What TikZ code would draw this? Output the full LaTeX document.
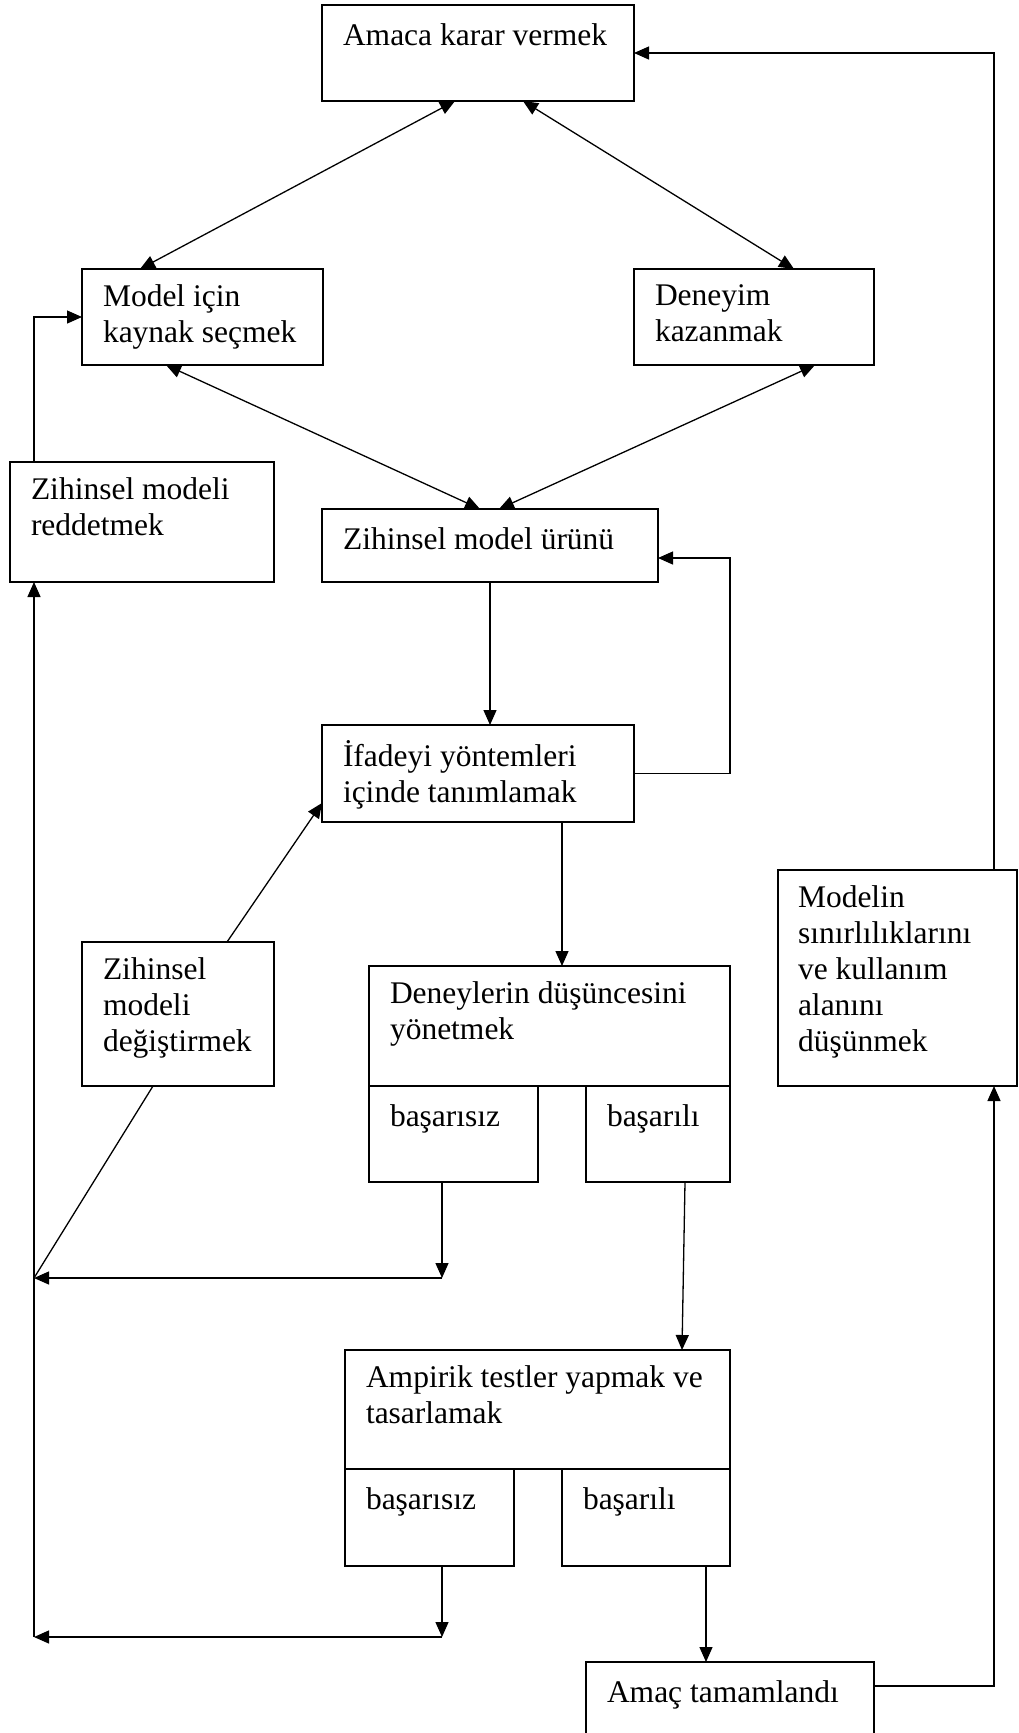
\documentclass[tikz,border=0pt]{standalone}
\usepackage{fontspec}
\setmainfont{Liberation Serif}
\usetikzlibrary{arrows.meta,calc}
\tikzset{
  box/.style={draw, line width=1.8pt, inner sep=0pt, outer sep=0pt},
  txt/.style={anchor=north west, inner sep=0pt, outer sep=0pt, align=left,
    font=\fontsize{31.5}{36}\selectfont, execute at begin node=\strut},
  conn/.style={line width=1.3pt, -{Triangle[length=15pt,width=13pt]}},
  bi/.style={line width=1.3pt, {Triangle[length=15pt,width=13pt]}-{Triangle[length=15pt,width=13pt]}},
  plain/.style={line width=1.3pt},
}
\begin{document}
\begin{tikzpicture}[x=1pt,y=-1pt]
\clip (0,0) rectangle (1018,1733);
\useasboundingbox (0,0) rectangle (1018,1733);
% boxes
\node[box, minimum width=312pt, minimum height=96pt] (goal) at (478,53) {};
\node[box, minimum width=241pt, minimum height=96pt] (src) at (202.5,317) {};
\node[box, minimum width=240pt, minimum height=96pt] (exp) at (754,317) {};
\node[box, minimum width=264pt, minimum height=120pt] (rej) at (142,522) {};
\node[box, minimum width=336pt, minimum height=73pt] (prod) at (490,545.5) {};
\node[box, minimum width=312pt, minimum height=97pt] (expr) at (478,773.5) {};
\node[box, minimum width=192pt, minimum height=144pt] (chg) at (178,1014) {};
\node[box, minimum width=361pt, minimum height=120pt] (exps) at (549.5,1026) {};
\node[box, minimum width=169pt, minimum height=96pt] (f1) at (453.5,1134) {};
\node[box, minimum width=144pt, minimum height=96pt] (s1) at (658,1134) {};
\node[box, minimum width=385pt, minimum height=119pt] (emp) at (537.5,1409.5) {};
\node[box, minimum width=169pt, minimum height=97pt] (f2) at (429.5,1517.5) {};
\node[box, minimum width=168pt, minimum height=97pt] (s2) at (646,1517.5) {};
\node[box, minimum width=239pt, minimum height=216pt] (lim) at (897.5,978) {};
\node[box, minimum width=288pt, minimum height=83pt] (done) at (730,1703.5) {};
% texts
\node[txt] (goalT) at ($(goal.north west)+(21,15.5)$) {Amaca karar vermek};
\node[txt] (srcT) at ($(src.north west)+(21,15.5)$) {Model için\\kaynak seçmek};
\node[txt] (expT) at ($(exp.north west)+(21,15.5)$) {Deneyim\\kazanmak};
\node[txt] (rejT) at ($(rej.north west)+(21,15.5)$) {Zihinsel modeli\\reddetmek};
\node[txt] (prodT) at ($(prod.north west)+(21,15.5)$) {Zihinsel model ürünü};
\node[txt] (exprT) at ($(expr.north west)+(21,15.5)$) {İfadeyi yöntemleri\\içinde tanımlamak};
\node[txt] (chgT) at ($(chg.north west)+(21,15.5)$) {Zihinsel\\modeli\\değiştirmek};
\node[txt] (expsT) at ($(exps.north west)+(21,15.5)$) {Deneylerin düşüncesini\\yönetmek};
\node[txt] (f1T) at ($(f1.north west)+(21,15.5)$) {başarısız};
\node[txt] (s1T) at ($(s1.north west)+(21,15.5)$) {başarılı};
\node[txt] (empT) at ($(emp.north west)+(21,15.5)$) {Ampirik testler yapmak ve\\tasarlamak};
\node[txt] (f2T) at ($(f2.north west)+(21,15.5)$) {başarısız};
\node[txt] (s2T) at ($(s2.north west)+(21,15.5)$) {başarılı};
\node[txt] (limT) at ($(lim.north west)+(20,15.5)$) {Modelin\\sınırlılıklarını\\ve kullanım\\alanını\\düşünmek};
\node[txt] (doneT) at ($(done.north west)+(21,15.5)$) {Amaç tamamlandı};
% junction coordinates
\coordinate (L1) at (34,1278);
\coordinate (J1) at ($(f1.south west)+(73,96)$);
\coordinate (L2) at (34,1637);
\coordinate (J2) at ($(f2.south west)+(97,71)$);
% connectors
\draw[bi] ($(goal.south west)+(133,0)$) -- ($(src.north west)+(58,0)$);
\draw[bi] ($(goal.south west)+(201,0)$) -- ($(exp.north west)+(160,0)$);
\draw[bi] ($(src.south west)+(84,0)$) -- ($(prod.north west)+(158,0)$);
\draw[bi] ($(exp.south west)+(181,0)$) -- ($(prod.north west)+(177,0)$);
\draw[conn] (prod.south) -- (prod.south |- expr.north);
\draw[conn] (expr.east) -- ++(96,0) |- ($(prod.east)+(0,12.5)$);
\draw[conn] ($(expr.south west)+(240,0)$) -- ($(exps.north west)+(193,0)$);
\draw[conn] ($(chg.north west)+(145,0)$) -- ($(expr.south west)+(0,-19)$);
\draw[plain] ($(chg.south west)+(71,0)$) -- (L1);
\draw[conn] ($(f1.south west)+(73,0)$) -- (J1);
\draw[conn] (J1) -- (L1);
\draw[conn] ($(s1.south west)+(99,0)$) -- ($(emp.north west)+(337,0)$);
\draw[conn] ($(f2.south west)+(97,0)$) -- (J2);
\draw[conn] (J2) -- (L2);
\draw[conn] (L2) -- (L2 |- rej.south);
\draw[conn] ($(rej.north west)+(24,0)$) |- (src.west);
\draw[conn] ($(s2.south west)+(144,0)$) -- ($(done.north west)+(120,0)$);
\draw[conn] ($(done.north east)+(0,24)$) -| ($(lim.south west)+(216,0)$);
\draw[conn] ($(lim.north west)+(216,0)$) |- (goal.east);
\end{tikzpicture}
\end{document}
